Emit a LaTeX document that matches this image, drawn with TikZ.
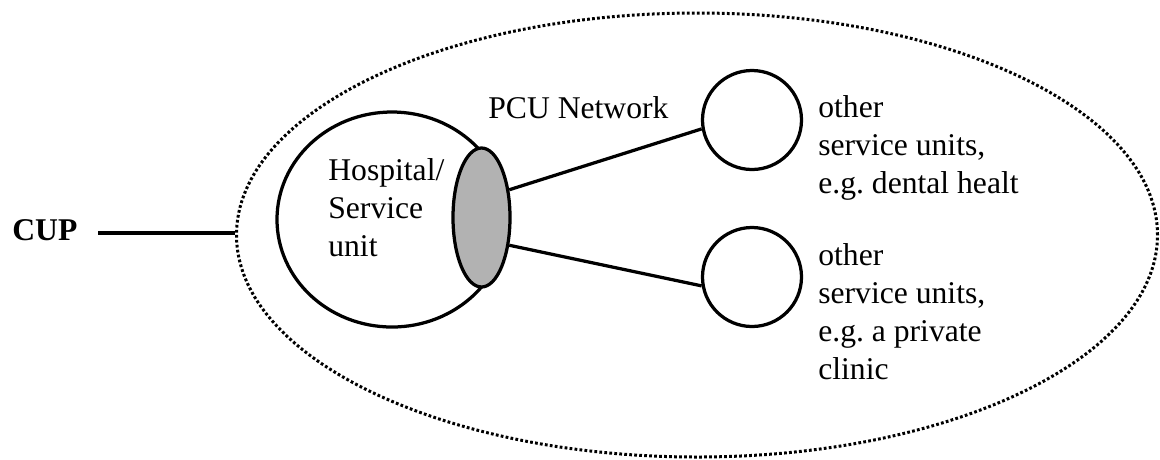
\documentclass[tikz,border=0pt]{standalone}
\usepackage{fontspec}
\setmainfont{Liberation Serif}
\usetikzlibrary{shapes,positioning}
\frenchspacing

\begin{document}
\begin{tikzpicture}[x=0.2mm, y=-0.2mm,
        unit/.style={draw, circle, line width=0.65mm, minimum size=19.8mm, inner sep=0pt},
        hosp/.style={draw, ellipse, line width=0.65mm, minimum width=46mm, minimum height=43mm, inner sep=0pt},
        overlap/.style={draw, ellipse, line width=0.65mm, fill=gray!60, minimum width=11.4mm, minimum height=27.8mm, inner sep=0pt},
        boundary/.style={draw, ellipse, line width=0.6mm, dash pattern=on 0.55mm off 0.45mm, minimum width=184.2mm, minimum height=88.8mm, inner sep=0pt},
        txt/.style={inner sep=0pt, align=left, font=\fontsize{18}{21.6}\selectfont},
        link/.style={line width=0.65mm}
    ]
        \useasboundingbox (0,0) rectangle (1160,459);
        \node [boundary] (cup) at (697,235) {};
        \node [hosp] (hosp) at (392,219.5) {};
        \node [overlap] (pcu) at (481.5,217.5) {};
        \node [unit] (unitA) at (752,120) {};
        \node [unit] (unitB) at (752,277) {};

        \node [txt, anchor=base west, font=\fontsize{18}{21.6}\selectfont\bfseries] (cuplabel) at (12,240) {CUP};
        \node [txt, anchor=north west] (hosplabel) at (328,158) {Hospital/\\Service\\unit};
        \node [txt, anchor=base west] (pculabel) at (488,118) {PCU Network};
        \node [txt, anchor=north west] (unitAlabel) at (818,95) {other\\service units,\\e.g. dental healt};
        \node [txt, anchor=north west] (unitBlabel) at (818,243) {other\\service units,\\e.g. a private\\clinic};
        \coordinate (cupend) at (98,233);

        \draw [link] (cupend) -- (cupend -| cup.west);
        \draw [link] (pcu.45) -- (unitA.190);
        \draw [link] (pcu.-45) -- (unitB.190);
    \end{tikzpicture}
\end{document}
